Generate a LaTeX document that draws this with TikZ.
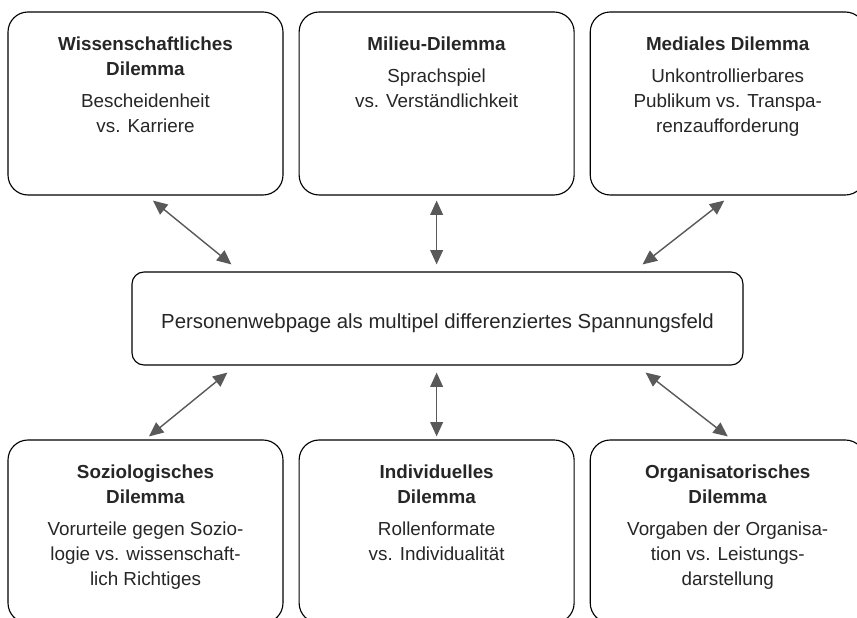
\documentclass[tikz,border=0pt]{standalone}
\usepackage{fontspec}
\setmainfont{Liberation Sans}
\usetikzlibrary{arrows.meta, positioning}

\definecolor{txtgray}{HTML}{262626}
\definecolor{arrgray}{HTML}{595959}

% text of one dilemma box: title, then body, set from the top
\newcommand{\dilemmatext}[2]{\parbox[c][4.575cm][t]{6.6cm}{\centering
  \fontsize{13.4}{17.8}\selectfont\vspace*{17.5pt}%
  \textbf{#1}\par\vspace{5pt}#2}}

\begin{document}
\begin{tikzpicture}[
		dilemma/.style={rectangle,rounded corners=0.5cm,draw,line width=0.8pt,
			minimum width=6.875cm,minimum height=4.575cm,inner sep=0pt,text=txtgray},
		hub/.style={rectangle,rounded corners=0.3cm,draw,line width=0.8pt,
			minimum width=15.275cm,minimum height=2.325cm,text=txtgray,
			text height=0.62cm,text depth=0.1cm,
			font=\fontsize{14.5}{17.8}\selectfont},
		dualarrow/.style={{Triangle[length=0.36cm,width=0.32cm]}-{Triangle[length=0.36cm,width=0.32cm]},
			line width=1pt,draw=arrgray}
		]
		\useasboundingbox (0,0) rectangle (21.425,15.45);
		\clip (0,0) rectangle (21.425,15.45);

		\node[dilemma](wiss) at (3.6375,12.8625){\dilemmatext{Wissenschaftliches\\Dilemma}{Bescheidenheit\\vs. Karriere}};
		\node[dilemma, right = 0.375cm of wiss](milieu){\dilemmatext{Milieu-Dilemma}{Sprachspiel\\vs. Verständlichkeit}};
		\node[dilemma, right = 0.375cm of milieu](medial){\dilemmatext{Mediales Dilemma}{Unkontrollierbares\\Publikum vs. Transpa-\\renzaufforderung}};

		\node[hub](web) at (10.9375,7.4875){Personenwebpage als multipel differenziertes Spannungsfeld};

		\node[dilemma](sozio) at (3.6375,2.1625){\dilemmatext{Soziologisches\\Dilemma}{Vorurteile gegen Sozio-\\logie vs. wissenschaft-\\lich Richtiges}};
		\node[dilemma, right = 0.375cm of sozio](indiv){\dilemmatext{Individuelles\\Dilemma}{Rollenformate\\vs. Individualität}};
		\node[dilemma, right = 0.375cm of indiv](orga){\dilemmatext{Organisatorisches\\Dilemma}{Vorgaben der Organisa-\\tion vs. Leistungs-\\darstellung}};

		\draw[dualarrow] ([shift={(0.1875,-0.125)}]wiss.south) -- ([shift={(2.5,0.175)}]web.north west);
		\draw[dualarrow] ([yshift=-0.125cm]milieu.south) -- ([yshift=0.175cm]milieu.south |- web.north);
		\draw[dualarrow] ([shift={(-0.0875,-0.125)}]medial.south) -- ([shift={(-2.525,0.175)}]web.north east);
		\draw[dualarrow] ([shift={(2.4,-0.175)}]web.south west) -- ([shift={(0.0875,0.075)}]sozio.north);
		\draw[dualarrow] ([yshift=-0.175cm]indiv.north |- web.south) -- ([yshift=0.075cm]indiv.north);
		\draw[dualarrow] ([shift={(-2.45,-0.175)}]web.south east) -- ([yshift=0.075cm]orga.north);

	\end{tikzpicture}
\end{document}
